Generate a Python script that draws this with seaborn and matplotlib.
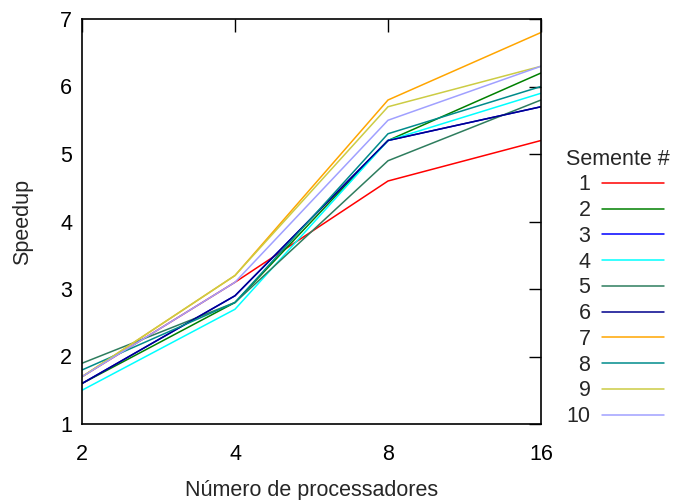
import matplotlib
matplotlib.use("Agg")
import matplotlib.pyplot as plt
import seaborn as sns
import pandas as pd

# Speedup per seed, measured at 2, 4, 8 and 16 processors
processors = [2, 4, 8, 16]
seeds = ["1", "2", "3", "4", "5", "6", "7", "8", "9", "10"]
speedup_1 = [1.7, 3.1, 4.6, 5.2]
speedup_2 = [1.6, 2.8, 5.2, 6.2]
speedup_3 = [1.6, 2.9, 5.2, 5.7]
speedup_4 = [1.5, 2.7, 5.2, 5.9]
speedup_5 = [1.9, 2.8, 4.9, 5.8]
speedup_6 = [1.6, 2.9, 5.2, 5.7]
speedup_7 = [1.7, 3.2, 5.8, 6.8]
speedup_8 = [1.8, 2.8, 5.3, 6.0]
speedup_9 = [1.7, 3.2, 5.7, 6.3]
speedup_10 = [1.7, 3.1, 5.5, 6.3]
all_speedups = [speedup_1, speedup_2, speedup_3, speedup_4, speedup_5,
                speedup_6, speedup_7, speedup_8, speedup_9, speedup_10]

colors = ["#ff0000", "#008000", "#0000ff", "#00ffff", "#2e7d5e",
          "#00008b", "#ffa500", "#008b8b", "#cccc44", "#a0a0ff"]
palette = dict(zip(seeds, colors))

rows = []
for seed, values in zip(seeds, all_speedups):
    for p, v in zip(processors, values):
        rows.append({"Processadores": p, "Speedup": v, "Semente": seed})
df = pd.DataFrame(rows)

FS = 15.5

sns.set_style("white")
plt.rcParams["font.family"] = ["Liberation Sans", "DejaVu Sans"]
plt.rcParams["font.size"] = FS

fig = plt.figure(figsize=(6.73, 5.0), dpi=100)
ax = fig.add_axes([82 / 673, 76 / 500, (541 - 82) / 673, (424 - 19) / 500])

sns.lineplot(data=df, x="Processadores", y="Speedup", hue="Semente",
             hue_order=seeds, palette=palette, linewidth=1.1, ax=ax,
             legend=False)

ax.set_xscale("log", base=2)
ax.set_xlim(2, 16)
ax.set_ylim(1, 7)
ax.set_xticks(processors)
ax.set_xticklabels([str(p) for p in processors])
ax.minorticks_off()
ax.set_yticks(range(1, 8))

ax.tick_params(direction="in", length=9, width=1, top=True, right=True,
               labelsize=FS, colors="black", pad=7)
ax.tick_params(axis="x", pad=14.5)
for side in ax.spines.values():
    side.set_visible(True)
    side.set_color("black")
    side.set_linewidth(1.2)

ax.set_xlabel("Número de processadores", fontsize=FS, labelpad=11)
ax.set_ylabel("Speedup", fontsize=FS, labelpad=19.5)

handles = [plt.Line2D([], [], color=palette[s], linewidth=1.1) for s in seeds]
fig.legend(handles, seeds, title="Semente #", loc="upper right",
           bbox_to_anchor=(681 / 673, 1 - 138 / 500), frameon=False,
           borderpad=0, markerfirst=False, handlelength=2.85,
           handletextpad=0.55, labelspacing=0.22, fontsize=FS,
           title_fontsize=FS, alignment="left")

fig.savefig("out.png", dpi=100)
